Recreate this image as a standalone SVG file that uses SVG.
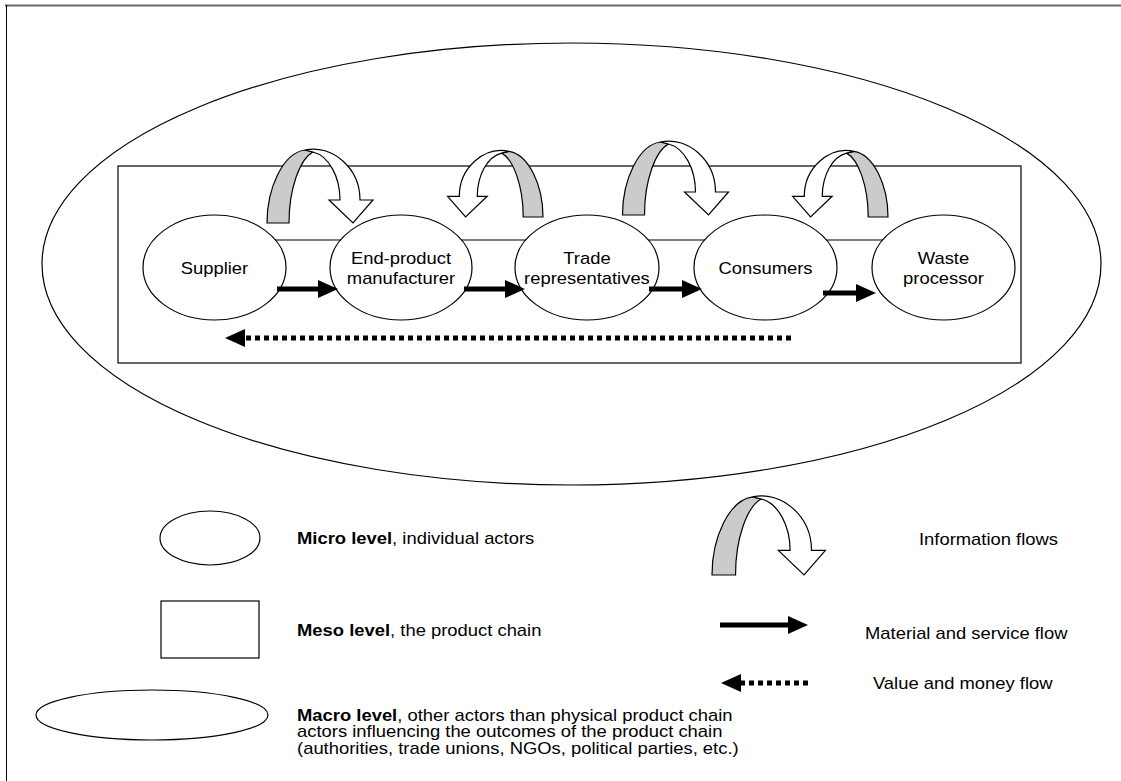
<svg xmlns="http://www.w3.org/2000/svg" xmlns:xlink="http://www.w3.org/1999/xlink" width="1121" height="781" viewBox="0 0 1121 781">
<style>
.ln{fill:none;stroke:#000;stroke-width:1.2}
.nd{fill:#fff;stroke:#000;stroke-width:1.2}
.gray{fill:#cbcbcb;stroke:#000;stroke-width:1.2;vector-effect:non-scaling-stroke;stroke-linejoin:miter}
.wht{fill:#fff;stroke:#000;stroke-width:1.2;vector-effect:non-scaling-stroke;stroke-linejoin:miter}
.mat{stroke:#000;stroke-width:5;fill:none;marker-end:url(#hd)}
.val{stroke:#000;stroke-width:5;fill:none;stroke-dasharray:5 4;marker-end:url(#hd)}
text{font-family:"Liberation Sans",Arial,sans-serif;font-size:16px;fill:#000}
.c{text-anchor:middle}
.b{font-weight:bold}
</style>
<defs>
<marker id="hd" markerUnits="userSpaceOnUse" markerWidth="22" markerHeight="20" refX="0" refY="9" orient="auto" overflow="visible">
<path d="M0,0 L20,9 L0,18 Z" fill="#000"/>
</marker>
<g id="info">
<path class="gray" d="M0,0 C0,-35 16,-70 38,-73 L46,-71 C33,-64 22,-35 22,0 Z"/>
<path class="wht" d="M38,-73 C65,-79 93,-55 93,-23 L106,-23 L86,0 L62,-23 L73,-23 C73,-46 62,-67 46,-71 Z"/>
</g>
</defs>
<rect width="1121" height="781" fill="#fff"/>
<g id="frame">
<line x1="5" y1="5.5" x2="1121" y2="5.5" stroke="#666" stroke-width="2"/>
<line x1="6.5" y1="5" x2="6.5" y2="781" stroke="#000" stroke-width="1"/>
</g>
<g id="macro-level"><ellipse class="ln" cx="571.5" cy="264" rx="529.5" ry="221"/></g>
<g id="meso-chain"><rect class="ln" x="118" y="166" width="903" height="197"/></g>
<g id="chain-line"><line class="ln" x1="214" y1="240" x2="943" y2="240"/></g>
<g id="node-supplier"><ellipse class="nd" cx="214.5" cy="267.5" rx="71.5" ry="52.5"/></g>
<g id="node-manufacturer"><ellipse class="nd" cx="401" cy="267.5" rx="71" ry="52.5"/></g>
<g id="node-trade"><ellipse class="nd" cx="587" cy="267.5" rx="72" ry="52.5"/></g>
<g id="node-consumers"><ellipse class="nd" cx="765.5" cy="267.5" rx="71.5" ry="52.5"/></g>
<g id="node-waste"><ellipse class="nd" cx="943.5" cy="267.5" rx="71.5" ry="52.5"/></g>
<g id="connectors">
<use xlink:href="#info" href="#info" transform="translate(267,223)"/>
<use xlink:href="#info" href="#info" transform="translate(543,217) scale(-0.9,0.9)"/>
<use xlink:href="#info" href="#info" transform="translate(622.5,215)"/>
<use xlink:href="#info" href="#info" transform="translate(888,217) scale(-0.9,0.9)"/>
<line class="mat" x1="277" y1="289" x2="318" y2="289"/>
<line class="mat" x1="464" y1="289" x2="505" y2="289"/>
<line class="mat" x1="649" y1="289" x2="682" y2="289"/>
<line class="mat" x1="823" y1="293" x2="856" y2="293"/>
<line class="val" x1="791" y1="338" x2="245" y2="338"/>
</g>
<g id="legend">
<ellipse class="nd" cx="210" cy="538" rx="50" ry="27"/>
<rect class="ln" x="161" y="601" width="98" height="57"/>
<ellipse class="ln" cx="152" cy="715" rx="116" ry="25"/>
<use xlink:href="#info" href="#info" transform="translate(712,575) scale(1.07)"/>
<line class="mat" x1="720" y1="625" x2="788" y2="625"/>
<line class="val" x1="808" y1="683" x2="741" y2="683"/>
</g>
<g id="labels" transform="scale(1.15,1)">
<text class="c" x="186.5" y="273.7">Supplier</text>
<text class="c" x="348.7" y="264">End-product</text>
<text class="c" x="348.7" y="284">manufacturer</text>
<text class="c" x="510.4" y="264">Trade</text>
<text class="c" x="510.4" y="284">representatives</text>
<text class="c" x="665.7" y="273.7">Consumers</text>
<text class="c" x="820.4" y="264">Waste</text>
<text class="c" x="820.4" y="284">processor</text>
<text x="258.3" y="544"><tspan class="b">Micro level</tspan>, individual actors</text>
<text x="258.3" y="636"><tspan class="b">Meso level</tspan>, the product chain</text>
<text x="258.3" y="721"><tspan class="b">Macro level</tspan>, other actors than physical product chain</text>
<text x="258.3" y="737.5">actors influencing the outcomes of the product chain</text>
<text x="258.3" y="754">(authorities, trade unions, NGOs, political parties, etc.)</text>
<text x="799.1" y="545">Information flows</text>
<text x="752.2" y="639">Material and service flow</text>
<text x="759.1" y="689">Value and money flow</text>
</g>
</svg>
